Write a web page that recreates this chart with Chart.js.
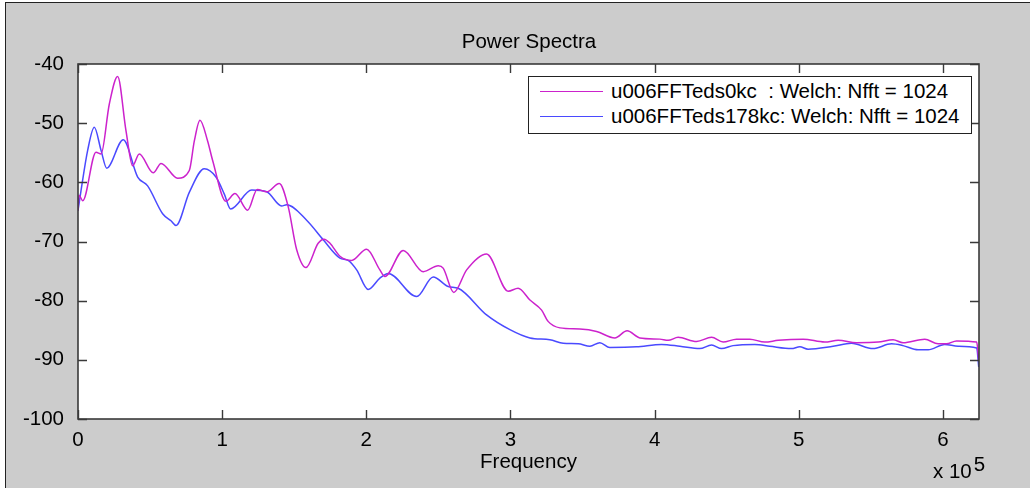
<!DOCTYPE html>
<html>
<head>
<meta charset="utf-8">
<script src="https://cdn.jsdelivr.net/npm/chart.js@4/dist/chart.umd.min.js"></script>
<style>
  html, body { margin:0; padding:0; background:#ffffff; }
  body { width:1030px; height:488px; position:relative; overflow:hidden;
         font-family:"Liberation Sans", Arial, sans-serif; }
  #bg { position:absolute; left:5px; top:2px; width:1030px; height:490px;
        background:#cccccc; border-left:1.5px solid #222; border-top:1.5px solid #222; }
  #c { position:absolute; left:0; top:0; }
  .txt { position:absolute; font-size:20.5px; line-height:20.5px; color:#000; white-space:pre; }
  #legend { position:absolute; left:528px; top:75.5px; width:442px; height:56px;
            border:1px solid #222; background:#fff; }
  .lrow { position:absolute; left:0; height:20px; width:440px; }
  .lline { position:absolute; left:11px; width:63px; height:0; }
  .ltxt { position:absolute; left:82px; top:0; font-size:20.5px; line-height:20.5px; white-space:pre; }
</style>
</head>
<body>
<div id="bg"></div>
<canvas id="c" width="1030" height="488"></canvas>
<div class="txt" id="title" style="left:0; width:1058px; text-align:center; top:31px;"></div>
<div class="txt" id="xlabel" style="left:0; width:1057px; text-align:center; top:451px;"></div>
<div class="txt" id="xexp" style="left:933px; top:460.5px;"></div>
<div id="legend"></div>
<script>
// ---- data (frequency in units of 10^5 Hz, power in dB) ----
const titleText = "Power Spectra";
const xLabelText = "Frequency";
const xExponent = 5;
const seriesLabels = ["u006FFTeds0kc  : Welch: Nfft = 1024", "u006FFTeds178kc: Welch: Nfft = 1024"];
const seriesColors = ["#cc22cc", "#4a4aff"];
const xTickValues = [0, 1, 2, 3, 4, 5, 6];
const yTickValues = [-100, -90, -80, -70, -60, -50, -40];

const freq0kc = [0.000,0.007,0.033,0.125,0.160,0.217,0.275,0.333,0.379,0.425,0.522,0.576,0.691,0.772,0.807,0.846,0.899,0.934,
  1.026,1.089,1.177,1.243,1.309,1.396,1.458,1.517,1.581,1.666,1.707,1.748,1.817,1.898,2.002,2.094,2.129,2.256,2.395,2.499,2.533,
  2.607,2.696,2.834,2.984,3.053,3.135,3.216,3.261,3.343,3.481,3.597,3.724,3.809,3.897,4.036,4.094,4.163,4.291,4.395,4.475,
  4.568,4.660,4.764,4.857,5.030,5.180,5.273,5.400,5.550,5.654,5.723,5.874,5.966,6.024,6.094,6.234,6.248];
const power0kc = [-64.8,-62.2,-63.1,-54.9,-55.2,-46.8,-42.1,-51.3,-57.2,-55.2,-58.4,-56.8,-59.3,-58.0,-53.0,-49.5,-53.0,-56.3,
  -63.2,-61.9,-64.7,-61.2,-61.6,-60.2,-64.1,-71.4,-74.4,-70.3,-69.6,-70.3,-72.5,-73.2,-71.3,-74.8,-75.9,-71.5,-75.1,-74.1,-74.5,
  -78.6,-74.8,-72.1,-78.4,-77.9,-79.9,-81.6,-83.5,-84.6,-84.8,-85.2,-86.3,-85.1,-86.3,-86.5,-86.7,-86.2,-86.9,-86.2,-87.0,
  -86.5,-86.5,-87.0,-86.7,-86.5,-87.0,-86.7,-87.1,-87.0,-86.6,-87.1,-86.5,-87.3,-87.3,-86.8,-87.0,-90.0];

const freq178kc = [0.000,0.021,0.067,0.113,0.160,0.199,0.314,0.414,0.483,0.587,0.645,0.680,0.772,0.876,0.957,1.015,1.059,
  1.205,1.309,1.413,1.447,1.586,1.701,1.817,1.874,1.933,2.013,2.094,2.152,2.349,2.464,2.568,2.637,2.834,2.996,3.135,3.273,
  3.366,3.470,3.551,3.620,3.689,3.874,4.048,4.175,4.313,4.395,4.464,4.544,4.695,4.799,4.949,5.007,5.064,5.238,5.365,5.515,
  5.643,5.723,5.827,5.897,6.012,6.105,6.234,6.248];
const power178kc = [-64.8,-61.4,-54.6,-50.7,-54.6,-57.6,-52.8,-59.1,-60.6,-65.3,-66.5,-67.3,-61.7,-57.7,-59.1,-62.0,-64.5,
  -61.3,-61.6,-64.0,-63.8,-66.4,-69.7,-72.8,-73.2,-74.8,-78.1,-76.2,-75.4,-79.3,-76.0,-77.6,-77.9,-82.4,-84.9,-86.3,-86.6,
  -87.2,-87.3,-87.7,-87.1,-87.9,-87.8,-87.4,-87.7,-88.1,-87.5,-88.1,-87.6,-87.4,-87.7,-88.1,-87.8,-88.2,-87.7,-87.2,-88.1,
  -87.3,-87.6,-88.3,-88.3,-87.4,-87.7,-88.0,-91.2];

const xMin = 0, xMax = 6.25, yMin = -100, yMax = -40;

// ---- texts ----
document.getElementById('title').textContent = titleText;
document.getElementById('xlabel').textContent = xLabelText;
document.getElementById('xexp').innerHTML = 'x 10<span style="position:relative; top:-7px; margin-left:2px;">' + xExponent + '</span>';

function toPoints(xs, ys) { return xs.map((x, i) => ({ x: x, y: ys[i] })); }

const legendEl = document.getElementById('legend');
seriesLabels.forEach((lab, i) => {
  const row = document.createElement('div');
  row.className = 'lrow';
  row.style.top = (4 + i * 25.4) + 'px';
  const ln = document.createElement('div');
  ln.className = 'lline';
  ln.style.top = '10px';
  ln.style.borderTop = '1.3px solid ' + seriesColors[i];
  const tx = document.createElement('div');
  tx.className = 'ltxt';
  tx.textContent = lab;
  row.appendChild(ln); row.appendChild(tx);
  legendEl.appendChild(row);
});

const framePlugin = {
  id: 'frame',
  beforeDatasetsDraw(chart) {
    const a = chart.chartArea, ctx = chart.ctx;
    ctx.save();
    ctx.fillStyle = '#ffffff';
    ctx.fillRect(a.left, a.top, a.right - a.left, a.bottom - a.top);
    ctx.restore();
  },
  afterDatasetsDraw(chart) {
    const a = chart.chartArea, ctx = chart.ctx;
    const xs = chart.scales.x, ys = chart.scales.y;
    const L = 9;
    ctx.save();
    ctx.strokeStyle = '#3a3a3a';
    ctx.lineWidth = 1.4;
    ctx.beginPath();
    xTickValues.forEach(v => {
      const px = Math.round(xs.getPixelForValue(v)) + 0.5;
      ctx.moveTo(px, a.bottom); ctx.lineTo(px, a.bottom - L);
      ctx.moveTo(px, a.top); ctx.lineTo(px, a.top + L);
    });
    yTickValues.forEach(v => {
      const py = Math.round(ys.getPixelForValue(v)) + 0.5;
      ctx.moveTo(a.left, py); ctx.lineTo(a.left + L, py);
      ctx.moveTo(a.right, py); ctx.lineTo(a.right - L, py);
    });
    ctx.stroke();
    ctx.lineWidth = 1.6;
    ctx.strokeRect(a.left, a.top, a.right - a.left, a.bottom - a.top);
    ctx.restore();
  }
};

new Chart(document.getElementById('c'), {
  type: 'line',
  data: {
    datasets: [
      { label: seriesLabels[0], data: toPoints(freq0kc, power0kc), borderColor: seriesColors[0],
        borderWidth: 1.5, pointRadius: 0, fill: false, cubicInterpolationMode: 'monotone' },
      { label: seriesLabels[1], data: toPoints(freq178kc, power178kc), borderColor: seriesColors[1],
        borderWidth: 1.5, pointRadius: 0, fill: false, cubicInterpolationMode: 'monotone' }
    ]
  },
  options: {
    responsive: false,
    animation: false,
    events: [],
    layout: { padding: { left: 18, top: 64, right: 51, bottom: 24 } },
    plugins: { legend: { display: false }, title: { display: false }, tooltip: { enabled: false } },
    scales: {
      x: {
        type: 'linear', min: xMin, max: xMax, clip: false,
        grid: { display: false }, border: { display: false },
        afterBuildTicks(scale) { scale.ticks = xTickValues.map(v => ({ value: v })); },
        afterFit(scale) { scale.height = 45; },
        ticks: { font: { family: 'Liberation Sans', size: 20.5 }, color: '#000', padding: 1, maxRotation: 0,
                 autoSkip: false, callback: v => String(v) }
      },
      y: {
        type: 'linear', min: yMin, max: yMax, clip: false,
        grid: { display: false }, border: { display: false },
        afterBuildTicks(scale) { scale.ticks = yTickValues.map(v => ({ value: v })); },
        afterFit(scale) { scale.width = 60; },
        ticks: { font: { family: 'Liberation Sans', size: 20.5 }, color: '#000', padding: 6,
                 autoSkip: false, callback: v => String(v) }
      }
    }
  },
  plugins: [framePlugin]
});
</script>
</body>
</html>
